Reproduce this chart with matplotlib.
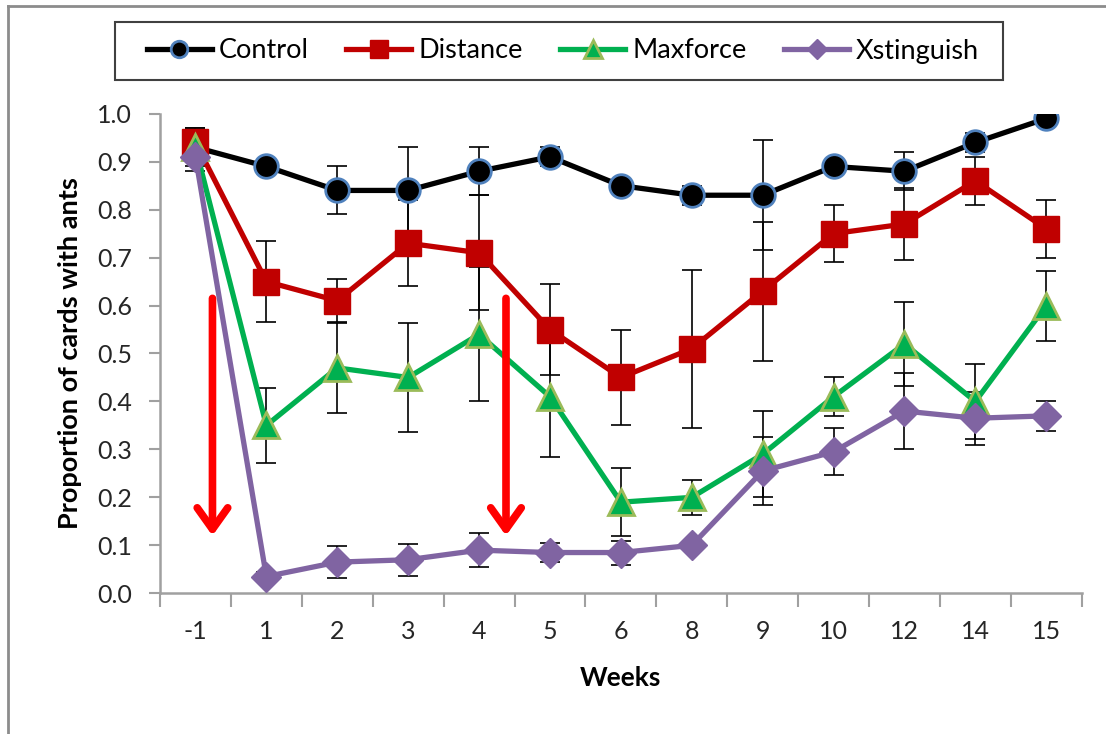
import matplotlib
matplotlib.use("Agg")
import matplotlib.pyplot as plt
from matplotlib.lines import Line2D
from matplotlib.patches import Rectangle
import numpy as np

weeks = ["-1", "1", "2", "3", "4", "5", "6", "8", "9", "10", "12", "14", "15"]

control = [0.93, 0.89, 0.84, 0.84, 0.88, 0.91, 0.85, 0.83, 0.83, 0.89, 0.88, 0.94, 0.99]
control_err = [0.04, 0.0, 0.05, 0.09, 0.05, 0.02, 0.0, 0.02, 0.115, 0.0, 0.04, 0.02, 0.0]

distance = [0.94, 0.65, 0.61, 0.73, 0.71, 0.55, 0.45, 0.51, 0.63, 0.75, 0.77, 0.86, 0.76]
distance_err = [0.03, 0.085, 0.045, 0.09, 0.12, 0.095, 0.10, 0.165, 0.145, 0.06, 0.075, 0.05, 0.06]

maxforce = [0.93, 0.35, 0.47, 0.45, 0.54, 0.41, 0.19, 0.20, 0.29, 0.41, 0.52, 0.40, 0.60]
maxforce_err = [0.03, 0.078, 0.094, 0.113, 0.14, 0.125, 0.071, 0.037, 0.09, 0.04, 0.087, 0.078, 0.073]

xstinguish = [0.91, 0.035, 0.065, 0.07, 0.09, 0.085, 0.085, 0.10, 0.255, 0.295, 0.38, 0.365, 0.37]
xstinguish_err = [0.03, 0.01, 0.033, 0.033, 0.036, 0.02, 0.025, 0.0, 0.07, 0.049, 0.08, 0.055, 0.031]

series_names = ["Control", "Distance", "Maxforce", "Xstinguish"]
arrow_positions = [0.24, 4.38]   # category-index positions of the red arrows
arrow_top, arrow_tip = 0.615, 0.12

plt.rcParams['font.family'] = ['Lato', 'DejaVu Sans']

W, H = 1106, 734
fig = plt.figure(figsize=(W / 100, H / 100), dpi=100)
ax = fig.add_axes([160 / W, (H - 593.3) / H, (1081.7 - 160) / W, (593.3 - 113.7) / H])

x = np.arange(len(weeks))
styles = [
    dict(color="black", marker="o", ms=17, mfc="black", mec="#4f81bd", mew=2.0),
    dict(color="#c00000", marker="s", ms=18.5, mfc="#c00000", mec="#c00000", mew=1),
    dict(color="#00b050", marker="^", ms=19, mfc="#00b050", mec="#9bbb59", mew=2.0),
    dict(color="#8064a2", marker="D", ms=15, mfc="#8064a2", mec="#8064a2", mew=1),
]
data = [(control, control_err), (distance, distance_err), (maxforce, maxforce_err), (xstinguish, xstinguish_err)]

handles = []
for name, (vals, errs), st in zip(series_names, data, styles):
    vals = np.array(vals); errs = np.array(errs)
    m = errs > 0
    ax.errorbar(x[m], vals[m], yerr=errs[m], fmt="none", ecolor="black", elinewidth=1.2,
                capsize=7, capthick=1.2, zorder=2)
    h, = ax.plot(x, vals, lw=3.8, label=name, zorder=3, **st)
    handles.append(h)

for xp in arrow_positions:
    ax.annotate("", xy=(xp, arrow_tip), xytext=(xp, arrow_top),
                arrowprops=dict(arrowstyle="->, head_length=0.7, head_width=0.5", color="#ff0000",
                                lw=5.5, shrinkA=0, shrinkB=0, mutation_scale=22),
                zorder=4)

ax.set_xlim(-0.5, len(weeks) - 0.5)
ax.set_ylim(0, 1.0)
ax.set_yticks(np.arange(0, 1.01, 0.1))
ax.set_yticklabels([f"{v:.1f}" for v in np.arange(0, 1.01, 0.1)])
ax.set_xticks(np.arange(-0.5, len(weeks), 1.0))
ax.set_xticklabels([])
ax.set_xticks(x, minor=True)
ax.set_xticklabels(weeks, minor=True)
ax.tick_params(axis="x", which="major", length=10, width=1.5, color="#a0a0a0", direction="out")
ax.tick_params(axis="x", which="minor", length=0, pad=19, labelsize=18, labelcolor="#262626")
ax.tick_params(axis="y", length=8, width=1.5, color="#a0a0a0", direction="out", labelsize=18,
               labelcolor="#262626", pad=12)
for s in ["top", "right"]:
    ax.spines[s].set_visible(False)
for s in ["left", "bottom"]:
    ax.spines[s].set_color("#a0a0a0")
    ax.spines[s].set_linewidth(1.8)

ax.set_ylabel("Proportion of cards with ants", fontsize=19.5, fontweight="bold", labelpad=11)
ax.set_xlabel("Weeks", fontsize=19, fontweight="bold", labelpad=17)

# legend frame drawn explicitly to match the reference box
fig.add_artist(Rectangle((115 / W, 1 - 80 / H), 888 / W, 58 / H, transform=fig.transFigure,
                         fill=False, edgecolor="#404040", lw=1.5))
leg = fig.legend(handles=handles, loc="center", ncol=4,
                 bbox_to_anchor=(563 / W, 1 - 51 / H),
                 fontsize=19.5, frameon=False,
                 handlelength=2.4, handletextpad=0.25, columnspacing=1.4, markerscale=0.7,
                 borderaxespad=0, borderpad=0)

fig.add_artist(Line2D([8 / W, 8 / W], [0, 1 - 6 / H], color="#8c8c8c", lw=2))
fig.add_artist(Line2D([8 / W, 1], [1 - 6 / H, 1 - 6 / H], color="#8c8c8c", lw=2))

fig.savefig("out.png", dpi=100)
